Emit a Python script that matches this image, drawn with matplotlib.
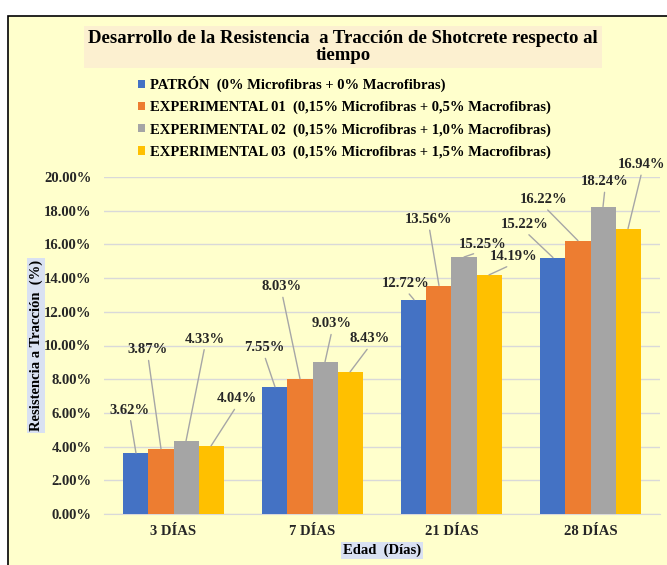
import numpy as np
import matplotlib.pyplot as plt
from matplotlib.patches import Patch, Rectangle

# Data
categorias = ['3 DÍAS', '7 DÍAS', '21 DÍAS', '28 DÍAS']
patron = [3.62, 7.55, 12.72, 15.22]
exp01 = [3.87, 8.03, 13.56, 16.22]
exp02 = [4.33, 9.03, 15.25, 18.24]
exp03 = [4.04, 8.43, 14.19, 16.94]
series_labels = ['PATRÓN  (0% Microfibras + 0% Macrofibras)',
                 'EXPERIMENTAL 01  (0,15% Microfibras + 0,5% Macrofibras)',
                 'EXPERIMENTAL 02  (0,15% Microfibras + 1,0% Macrofibras)',
                 'EXPERIMENTAL 03  (0,15% Microfibras + 1,5% Macrofibras)']
colors = ['#4472C4', '#ED7D31', '#A5A5A5', '#FFC000']

# label offsets in pixels (dx, dy) from top of each bar, per series then category
offsets = [
    [(-6, 43), (-11, 39), (-8, 16), (-28, 33)],
    [(-13, 99), (-18, 92), (-10, 66), (-34, 41)],
    [(19, 102), (7, 38), (19, 13), (2, 25)],
    [(26, 47), (20, 33), (25, 18), (14, 64)],
]

plt.rcParams['font.family'] = ['Liberation Serif', 'DejaVu Serif']
plt.rcParams['font.weight'] = 'bold'

bg = '#FFFFCC'
fig = plt.figure(figsize=(6.67, 5.65), dpi=100)
fig.patch.set_facecolor('white')
# chart frame
fig.patches.append(Rectangle((8 / 667, -0.1), 1.2, 1 - 16 / 565 + 0.1,
                             transform=fig.transFigure, facecolor=bg,
                             edgecolor='black', linewidth=1.2, zorder=-10))

ax = fig.add_axes([104 / 667, 1 - 514 / 565, 556 / 667, 337 / 565])
ax.patch.set_alpha(0)

x = np.arange(len(categorias))
w = 0.18
all_series = [patron, exp01, exp02, exp03]
for i, (vals, col) in enumerate(zip(all_series, colors)):
    pos = x + (i - 1.5) * w
    ax.bar(pos, vals, width=w, color=col, zorder=3)
    for j, v in enumerate(vals):
        dx, dy = offsets[i][j]
        ax.annotate(f'{v:.2f}%', xy=(pos[j], v), xytext=(dx, dy),
                    textcoords='offset pixels', ha='center', va='center',
                    fontsize=10.5, fontweight='bold', color='#262626',
                    arrowprops=dict(arrowstyle='-', color='#A6A6A6', lw=1,
                                    relpos=(0.5, 0), shrinkA=1, shrinkB=0),
                    zorder=5, annotation_clip=False)

ax.set_xlim(-0.5, 3.5)
ax.set_ylim(0, 20)
ax.set_yticks(np.arange(0, 21, 2))
ax.set_yticklabels([f'{t:.2f}%' for t in np.arange(0, 21, 2)])
ax.set_xticks(x)
ax.set_xticklabels(categorias)
ax.tick_params(axis='both', length=0, labelsize=10.5, colors='#262626')
ax.tick_params(axis='y', pad=9)
ax.tick_params(axis='x', pad=8)
for lab in ax.get_xticklabels() + ax.get_yticklabels():
    lab.set_fontweight('bold')
ax.grid(axis='y', color='#D9D9D9', lw=1, zorder=0)
for s in ['top', 'right', 'left']:
    ax.spines[s].set_visible(False)
ax.spines['bottom'].set_color('#D9D9D9')

ax.set_ylabel('Resistencia a Tracción  (%)', fontsize=10.5, fontweight='bold',
              labelpad=1, bbox=dict(facecolor='#D9E1F2', edgecolor='none', pad=1.5))
ax.set_xlabel('Edad  (Días)', fontsize=10.5, fontweight='bold', labelpad=4,
              bbox=dict(facecolor='#D9E1F2', edgecolor='none', pad=1.5))

fig.text(343 / 667, 1 - 47 / 565,
         'Desarrollo de la Resistencia  a Tracción de Shotcrete respecto al\ntiempo',
         ha='center', va='center', fontsize=13.5, fontweight='bold',
         linespacing=1.0,
         bbox=dict(facecolor='#FCF0D0', edgecolor='none', pad=3))

handles = [Patch(facecolor=c) for c in colors]
fig.legend(handles, series_labels, loc='upper left',
           bbox_to_anchor=(138 / 667, 1 - 76 / 565), frameon=False,
           fontsize=10.5, handlelength=0.5, handleheight=0.5, handletextpad=0.35,
           labelspacing=0.6, borderaxespad=0, borderpad=0)

fig.savefig('out.png', dpi=100, facecolor=fig.get_facecolor())
